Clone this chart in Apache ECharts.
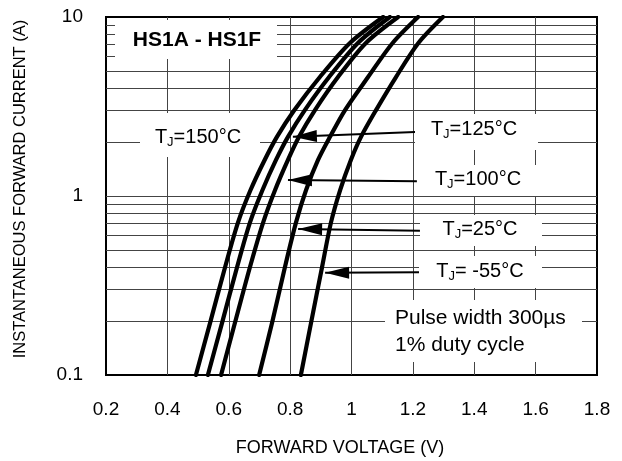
<!DOCTYPE html>
<html><head><meta charset="utf-8">
<script src="https://cdn.jsdelivr.net/npm/echarts@6/dist/echarts.min.js"></script>
<style>html,body{margin:0;padding:0;background:#fff}#c{width:622px;height:461px}</style>
</head><body><div id="c"></div>
<script>
// ---- data (forward voltage V, forward current A) ----
const xTickMin = 0.2, xTickMax = 1.8, xTickStep = 0.2;
const yMin = 0.1, yMax = 10;
const minorGridValues = [0.2,0.3,0.4,0.5,0.6,0.7,0.8,0.9,2,3,4,5,6,7,8,9];

const currentA  = [0.1, 0.195, 0.40, 0.71, 1.08, 1.59, 2.14, 3.02, 4.62, 7.16, 10];
const voltT150  = [0.493, 0.539, 0.588, 0.630, 0.671, 0.717, 0.757, 0.814, 0.897, 0.995, 1.103];
const voltT125  = [0.532, 0.578, 0.627, 0.669, 0.710, 0.754, 0.793, 0.848, 0.927, 1.021, 1.125];
const voltT100  = [0.575, 0.620, 0.669, 0.712, 0.751, 0.793, 0.829, 0.881, 0.956, 1.047, 1.152];
const voltT25   = [0.699, 0.741, 0.783, 0.819, 0.852, 0.891, 0.930, 0.979, 1.054, 1.134, 1.217];
const voltTm55  = [0.835, 0.868, 0.904, 0.933, 0.963, 0.998, 1.031, 1.080, 1.145, 1.218, 1.298];

// arrows: [start(label side), tip(on curve)]
const arrow125 = [[1.207,2.28],[0.809,2.14]];
const arrow100 = [[1.213,1.21],[0.793,1.23]];
const arrow25  = [[1.223,0.64],[0.826,0.654]];
const arrowM55 = [[1.220,0.375],[0.914,0.372]];

const FONT = '"Liberation Sans", Arial, Helvetica, sans-serif';
const chart = echarts.init(document.getElementById('c'), null, {renderer:'canvas'});

function curve(volts){
  return {type:'line', data:volts.map((v,i) => [v, currentA[i]]), smooth:0.3, symbol:'none', z:5, clip:true,
    lineStyle:{color:'#000', width:4.2, cap:'round', join:'round'}};
}
function tLabel(x, y, rest){
  return {type:'text', z:60, x:x, y:y, style:{
    text:'{m|T}{s|J}{m|' + rest + '}', align:'center', verticalAlign:'middle',
    rich:{ m:{fontSize:20, fontFamily:FONT, fill:'#000'}, s:{fontSize:13, fontFamily:FONT, fill:'#000', padding:[10,0,0,0]} }
  }};
}
function box(x,y,w,h){ return {type:'rect', z:55, shape:{x:x,y:y,width:w,height:h}, style:{fill:'#fff'}}; }

const arrows = [arrow125, arrow100, arrow25, arrowM55].map(a => [
  {coord:a[0], symbol:'none'},
  {coord:a[1], symbol:'triangle', symbolSize:[12,24], symbolOffset:[0,12]}
]);

chart.setOption({
  animation:false,
  textStyle:{fontFamily:FONT},
  grid:{left:106, right:25, top:17, bottom:86, show:true, borderColor:'#000', borderWidth:2, backgroundColor:'transparent'},
  xAxis:{type:'value', min:xTickMin, max:xTickMax, interval:xTickStep,
    axisLine:{show:false}, axisTick:{show:false},
    axisLabel:{color:'#000', fontSize:19, margin:25, fontFamily:FONT},
    splitLine:{show:true, showMinLine:false, showMaxLine:false, lineStyle:{color:'#444', width:1}}},
  yAxis:{type:'log', logBase:10, min:yMin, max:yMax,
    axisLine:{show:false}, axisTick:{show:false},
    axisLabel:{color:'#000', fontSize:19, margin:23, fontFamily:FONT},
    splitLine:{show:true, showMinLine:false, showMaxLine:false, lineStyle:{color:'#444', width:1}}},
  series:[
    {type:'line', data:[], z:1, silent:true,
      markLine:{silent:true, animation:false, symbol:['none','none'], label:{show:false},
        lineStyle:{color:'#444', width:1, type:'solid'},
        data:minorGridValues.map(v => ({yAxis:v}))}},
    curve(voltT150), curve(voltT125), curve(voltT100), curve(voltT25), curve(voltTm55),
    {type:'line', data:[], z:6, silent:true,
      markLine:{silent:true, animation:false, symbol:['none','triangle'], label:{show:false},
        lineStyle:{color:'#000', width:2, type:'solid'},
        itemStyle:{color:'#000'},
        data:arrows}}
  ],
  graphic:[
    box(115,20,162,39),
    {type:'text', z:60, x:197, y:40, style:{text:'HS1A - HS1F', font:'bold 21px ' + FONT, fill:'#000', align:'center', verticalAlign:'middle'}},
    box(140,113,120,44), tLabel(198,137,'=150°C'),
    box(415,114,123,36), tLabel(474,129,'=125°C'),
    box(417,165,121,31), tLabel(478,179,'=100°C'),
    box(420,215,122,31), tLabel(480,229,'=25°C'),
    box(419,256,123,32), tLabel(480,271,'= -55°C'),
    box(385,300,197,62),
    {type:'text', z:60, x:395, y:318, style:{text:'Pulse width 300µs', font:'21px ' + FONT, fill:'#000', align:'left', verticalAlign:'middle'}},
    {type:'text', z:60, x:395, y:345, style:{text:'1% duty cycle', font:'21px ' + FONT, fill:'#000', align:'left', verticalAlign:'middle'}},
    {type:'text', z:60, x:340, y:448, style:{text:'FORWARD VOLTAGE (V)', font:'18px ' + FONT, fill:'#000', align:'center', verticalAlign:'middle'}},
    {type:'text', z:60, x:20, y:189, rotation:Math.PI/2, style:{text:'INSTANTANEOUS FORWARD CURRENT (A)', font:'16.5px ' + FONT, fill:'#000', align:'center', verticalAlign:'middle'}}
  ]
});
</script></body></html>
